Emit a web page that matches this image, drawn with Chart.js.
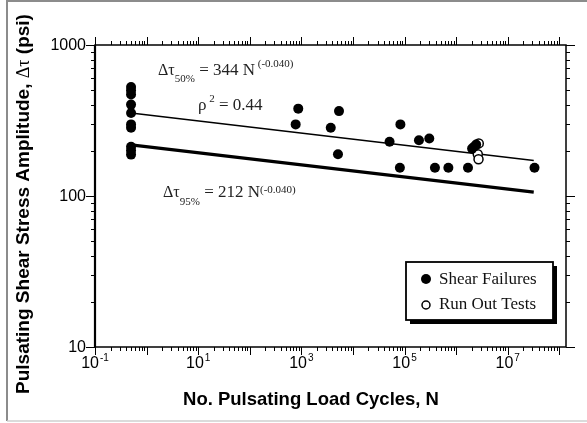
<!DOCTYPE html>
<html>
<head>
<meta charset="utf-8">
<script src="https://cdn.jsdelivr.net/npm/chart.js@4/dist/chart.umd.min.js"></script>
<style>
html,body{margin:0;padding:0;background:#fff;}
#wrap{width:587px;height:423px;position:relative;}
</style>
</head>
<body>
<div id="wrap"><canvas id="c"></canvas></div>
<script>
// ---- data ----
const xTickValues = [0.1, 10, 1000, 1e5, 1e7];
const xTickExponents = ['-1', '1', '3', '5', '7'];
const yTickValues = [10, 100, 1000];
const yTickLabels = ['10', '100', '1000'];

const shearN = [0.5, 0.5, 0.5, 0.5, 0.5, 0.5, 0.5, 0.5, 0.5, 0.5,
  776, 871, 3715, 5370, 5130, 51300, 81300, 83200, 190500, 302000,
  389000, 708000, 1.70e6, 2.04e6, 2.24e6, 2.45e6, 3.31e7];
const shearTau = [527, 500, 470, 403, 355, 298, 283, 212, 200, 188,
  298, 379, 283, 365, 189, 229, 154, 298, 234, 240,
  154, 154, 154, 206, 212, 219, 154];
const runOutN = [2.75e6, 2.63e6, 2.72e6];
const runOutTau = [223, 189, 175];

const fit50N = [0.5, 3.2e7];
const fit50Tau = [354, 172];
const fit95N = [0.5, 3.2e7];
const fit95Tau = [218, 106];

const xTitle = 'No. Pulsating Load Cycles, N';
const yTitleParts = ['Pulsating Shear Stress Amplitude, ', 'Δτ', ' (psi)'];
const legendLabels = ['Shear Failures', 'Run Out Tests'];

const pts = (xs, ys) => xs.map((v, i) => ({x: v, y: ys[i]}));

const SERIF = '"Liberation Serif", "Times New Roman", serif';
const SANS = '"Liberation Sans", Arial, sans-serif';

function drawRuns(ctx, x, y, runs) {
  let cx = x;
  runs.forEach(r => {
    ctx.font = r.font;
    ctx.fillText(r.t, cx, y + (r.dy || 0));
    cx += ctx.measureText(r.t).width;
  });
}

const decor = {
  id: 'decor',
  afterDraw(chart) {
    const {ctx, chartArea: a, scales: {x, y}} = chart;
    ctx.save();
    // outer picture border
    ctx.lineWidth = 2;
    ctx.strokeStyle = '#8c8c8c';
    ctx.beginPath(); ctx.moveTo(7, 421); ctx.lineTo(7, 1); ctx.lineTo(587, 1); ctx.stroke();
    ctx.strokeStyle = '#cfcfcf';
    ctx.lineWidth = 1.5;
    ctx.beginPath(); ctx.moveTo(7, 421); ctx.lineTo(587, 421); ctx.stroke();

    // plot frame
    ctx.strokeStyle = '#000';
    ctx.lineWidth = 1.5;
    ctx.strokeRect(a.left, a.top, a.right - a.left, a.bottom - a.top);
    ctx.lineWidth = 2.2;
    ctx.beginPath(); ctx.moveTo(a.left, a.top); ctx.lineTo(a.left, a.bottom); ctx.stroke();

    // tick marks (outside, on all four sides)
    ctx.lineWidth = 1;
    const xmin = x.min, xmax = x.max, ymin = y.min, ymax = y.max;
    for (let e = Math.floor(Math.log10(xmin)); e <= Math.ceil(Math.log10(xmax)); e++) {
      for (let m = 1; m <= 9; m++) {
        const v = m * Math.pow(10, e);
        if (v < xmin * 0.9999 || v > xmax * 1.0001) continue;
        const px = Math.round(x.getPixelForValue(v)) + 0.5;
        const len = m === 1 ? 8 : 4;
        ctx.beginPath();
        ctx.moveTo(px, a.bottom); ctx.lineTo(px, a.bottom + len);
        ctx.moveTo(px, a.top); ctx.lineTo(px, a.top - len);
        ctx.stroke();
      }
    }
    for (let e = Math.floor(Math.log10(ymin)); e <= Math.ceil(Math.log10(ymax)); e++) {
      for (let m = 1; m <= 9; m++) {
        const v = m * Math.pow(10, e);
        if (v < ymin * 0.9999 || v > ymax * 1.0001) continue;
        const py = Math.round(y.getPixelForValue(v)) + 0.5;
        const len = m === 1 ? 9 : 4;
        ctx.beginPath();
        ctx.moveTo(a.left, py); ctx.lineTo(a.left - len, py);
        ctx.moveTo(a.right, py); ctx.lineTo(a.right + len, py);
        ctx.stroke();
      }
    }

    // y tick labels
    ctx.fillStyle = '#000';
    ctx.font = '16px ' + SANS;
    ctx.textAlign = 'right';
    ctx.textBaseline = 'middle';
    yTickValues.forEach((v, i) => {
      ctx.fillText(yTickLabels[i], a.left - 9, y.getPixelForValue(v) + 1);
    });

    // x tick labels: 10 with superscript exponent
    ctx.textAlign = 'left';
    ctx.textBaseline = 'alphabetic';
    xTickValues.forEach((v, i) => {
      const px = x.getPixelForValue(v);
      ctx.font = '16px ' + SANS;
      const w1 = ctx.measureText('10').width;
      ctx.font = '10px ' + SANS;
      const w2 = ctx.measureText(xTickExponents[i]).width + 1;
      const sx = px - (w1 + w2) / 2;
      ctx.font = '16px ' + SANS;
      ctx.fillText('10', sx, a.bottom + 21);
      ctx.font = '10px ' + SANS;
      ctx.fillText(xTickExponents[i], sx + w1 + 1, a.bottom + 14);
    });

    // axis titles
    ctx.font = 'bold 18.5px ' + SANS;
    ctx.textAlign = 'center';
    ctx.fillText(xTitle, 311, 405);

    ctx.save();
    ctx.translate(24, 204);
    ctx.rotate(-Math.PI / 2);
    ctx.textAlign = 'left';
    ctx.textBaseline = 'middle';
    const fonts = ['bold 19px ' + SANS, '18px ' + SERIF, 'bold 19px ' + SANS];
    let tw = 0;
    yTitleParts.forEach((t, i) => { ctx.font = fonts[i]; tw += ctx.measureText(t).width; });
    let cx = -tw / 2;
    yTitleParts.forEach((t, i) => {
      ctx.font = fonts[i];
      ctx.fillText(t, cx, 0);
      cx += ctx.measureText(t).width;
    });
    ctx.restore();

    // equation annotations
    ctx.fillStyle = '#222';
    ctx.textAlign = 'left';
    ctx.textBaseline = 'alphabetic';
    const big = '17px ' + SERIF, small = '11px ' + SERIF;
    drawRuns(ctx, 158, 75, [
      {t: 'Δτ', font: '16px ' + SERIF},
      {t: '50%', font: small, dy: 7},
      {t: ' = 344 N', font: big},
      {t: ' (-0.040)', font: small, dy: -8}
    ]);
    drawRuns(ctx, 198, 110, [
      {t: 'ρ', font: big},
      {t: ' 2', font: small, dy: -8},
      {t: ' = 0.44', font: big}
    ]);
    drawRuns(ctx, 163, 197, [
      {t: 'Δτ', font: '16px ' + SERIF},
      {t: '95%', font: small, dy: 8},
      {t: ' = 212 N', font: big},
      {t: '(-0.040)', font: small, dy: -4}
    ]);

    // legend box with drop shadow
    const bx = 406, by = 262, bw = 147, bh = 58;
    ctx.fillStyle = '#000';
    ctx.fillRect(bx + 4, by + 4, bw, bh);
    ctx.fillStyle = '#fff';
    ctx.fillRect(bx, by, bw, bh);
    ctx.strokeStyle = '#000';
    ctx.lineWidth = 1.8;
    ctx.strokeRect(bx, by, bw, bh);
    // markers
    ctx.fillStyle = '#000';
    ctx.beginPath(); ctx.arc(426, 279, 5, 0, Math.PI * 2); ctx.fill();
    ctx.fillStyle = '#fff';
    ctx.lineWidth = 1.5;
    ctx.beginPath(); ctx.arc(426, 305, 4, 0, Math.PI * 2); ctx.fill(); ctx.stroke();
    ctx.fillStyle = '#111';
    ctx.font = '17px ' + SERIF;
    ctx.textBaseline = 'middle';
    ctx.fillText(legendLabels[0], 439, 280);
    ctx.fillText(legendLabels[1], 439, 305);
    ctx.restore();
  }
};

new Chart(document.getElementById('c'), {
  type: 'scatter',
  data: {
    datasets: [
      {label: legendLabels[0], data: pts(shearN, shearTau), pointRadius: 5, pointHoverRadius: 5,
       backgroundColor: '#000', borderColor: '#000', borderWidth: 0},
      {label: legendLabels[1], data: pts(runOutN, runOutTau), pointRadius: 4.5, pointHoverRadius: 4.5,
       backgroundColor: '#fff', borderColor: '#000', borderWidth: 1.5},
      {label: 'fit50', data: pts(fit50N, fit50Tau), showLine: true, pointRadius: 0,
       borderColor: '#000', borderWidth: 1.5, fill: false},
      {label: 'fit95', data: pts(fit95N, fit95Tau), showLine: true, pointRadius: 0,
       borderColor: '#000', borderWidth: 3.2, fill: false}
    ]
  },
  options: {
    responsive: true,
    maintainAspectRatio: false,
    animation: false,
    events: [],
    layout: {padding: {left: 95, top: 45, right: 21, bottom: 76}},
    plugins: {legend: {display: false}, tooltip: {enabled: false}, title: {display: false}},
    scales: {
      x: {type: 'logarithmic', min: 0.1, max: 1.35e8, display: false},
      y: {type: 'logarithmic', min: 10, max: 1000, display: false}
    }
  },
  plugins: [decor]
});
</script>
</body>
</html>
